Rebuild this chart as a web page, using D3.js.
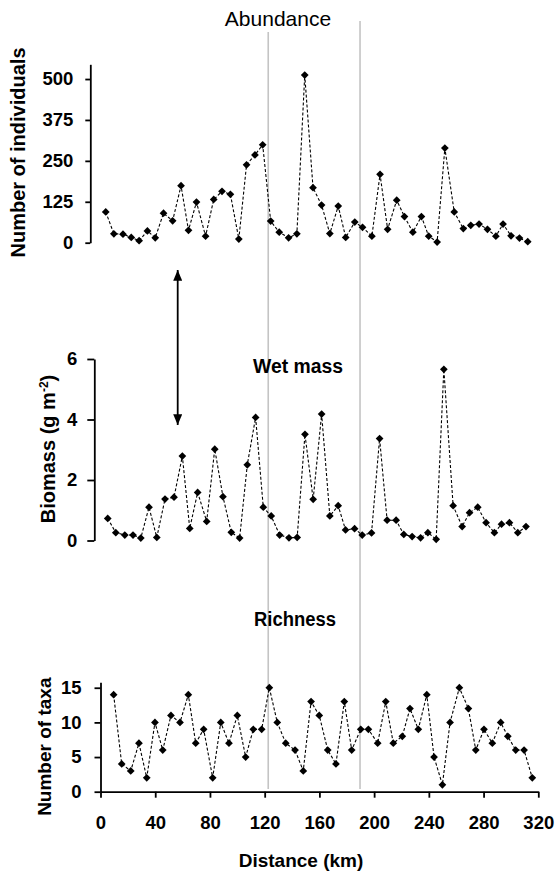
<!DOCTYPE html>
<html>
<head>
<meta charset="utf-8">
<script src="https://cdn.jsdelivr.net/npm/d3@7"></script>
<style>
  html, body { margin: 0; padding: 0; background: #fff; }
  svg { display: block; }
  text { font-family: "Liberation Sans", Arial, sans-serif; fill: #000; }
</style>
</head>
<body>
<svg id="chart" width="555" height="875"></svg>
<script>
// ---- data ----
const distanceKm = [9.6,15.5,22.1,28.1,33.8,39.8,45.5,51.5,58.1,64.2,69.6,75.4,82.0,87.9,93.9,100.0,106.1,111.7,117.8,123.4,129.2,135.4,142.2,148.2,153.9,159.9,166.1,172.1,178.2,183.6,190.2,195.8,202.6,208.5,214.0,220.6,226.2,232.3,238.5,243.8,249.9,255.5,262.3,268.9,274.3,280.3,286.4,292.5,297.7,303.5,309.6,315.6];
const abundance = [94,27,26,16,6,36,15,90,67,174, 38,124,20,132,157,148,11,238,268,299, 66,32,15,27,512,168,115,28,112,16, 63,47,20,209,41,130,80,32,80,20, 2,289,94,43,53,57,41,20,57,21, 14,3];
const biomass = [0.73,0.26,0.18,0.18,0.08,1.10,0.10,1.37,1.43,2.79, 0.40,1.59,0.63,3.02,1.45,0.27,0.08,2.50,4.07,1.10, 0.81,0.18,0.09,0.10,3.51,1.36,4.18,0.81,1.15,0.35, 0.39,0.18,0.25,3.37,0.67,0.67,0.20,0.13,0.09,0.26, 0.04,5.66,1.15,0.46,0.92,1.10,0.59,0.26,0.54,0.59, 0.26,0.46];
const richness = [14,4,3,7,2,10,6,11,10,14, 7,9,2,10,7,11,5,9,9,15, 10,7,6,3,13,11,6,4,13,6, 9,9,7,13,7,8,12,9,14,5, 1,10,15,12,6,9,7,10,8,6, 6,2];
const abundanceTicks = [0,125,250,375,500];
const biomassTicks = [0,2,4,6];
const richnessTicks = [0,5,10,15];
const distanceTicks = [0,40,80,120,160,200,240,280,320];
const sectionBounds = [122.6, 189.7];

const svg = d3.select("#chart");

// ---- scales ----
const xRich = d3.scaleLinear().domain([0,320]).range([100.5,538.3]);
const xAbun = d3.scaleLinear().domain([0,320]).range([92.5,533.8]);
const xBio  = d3.scaleLinear().domain([0,320]).range([94.6,532.0]);
const yAbun = d3.scaleLinear().domain([0,545]).range([242.7,64.3]);
const yBio  = d3.scaleLinear().domain([0,6]).range([540.5,359]);
const yRich = d3.scaleLinear().domain([0,15.8]).range([791.7,682.2]);
const fmt = d3.format("d");

// ---- grey section lines ----
const lineTops = [32, 21];
svg.selectAll("line.section").data(sectionBounds).join("line")
  .attr("class","section")
  .attr("x1", d => xRich(d)).attr("x2", d => xRich(d))
  .attr("y1", (d,i) => lineTops[i]).attr("y2", 789)
  .attr("stroke", "#c4c4c4").attr("stroke-width", 1.6);

// ---- axes ----
function styleAxis(g, fs) {
  g.select(".domain").attr("stroke","#000").attr("stroke-width",1.8);
  g.selectAll(".tick line").attr("stroke","#000").attr("stroke-width",1.8);
  g.selectAll(".tick text").attr("font-size", fs).attr("font-weight","bold")
    .attr("font-family",'"Liberation Sans", Arial, sans-serif').attr("fill","#000");
}

svg.append("g").attr("transform","translate(90.3,0)")
  .call(d3.axisLeft(yAbun).tickValues(abundanceTicks).tickFormat(fmt).tickSizeInner(5).tickSizeOuter(0).tickPadding(12))
  .call(g => styleAxis(g, 18.5));

svg.append("g").attr("transform","translate(94.3,0)")
  .call(d3.axisLeft(yBio).tickValues(biomassTicks).tickFormat(fmt).tickSizeInner(7).tickSizeOuter(0).tickPadding(10))
  .call(g => styleAxis(g, 18.5));

svg.append("g").attr("transform","translate(100.5,0)")
  .call(d3.axisLeft(yRich).tickValues(richnessTicks).tickFormat(fmt).tickSizeInner(6).tickSizeOuter(0).tickPadding(13))
  .call(g => styleAxis(g, 18.5));

svg.append("g").attr("transform","translate(0,791.7)")
  .call(d3.axisBottom(xRich).tickValues(distanceTicks).tickFormat(fmt).tickSizeInner(6).tickSizeOuter(0).tickPadding(18))
  .call(g => styleAxis(g, 18.5));

// ---- series ----
function drawSeries(values, xs, ys) {
  const pts = values.map((v,i) => [distanceKm[i], v]);
  svg.append("path").datum(pts)
    .attr("d", d3.line().x(d => xs(d[0])).y(d => ys(d[1])))
    .attr("fill","none").attr("stroke","#000").attr("stroke-width",1.1)
    .attr("stroke-dasharray","3,2");
  svg.append("g").selectAll("path").data(pts).join("path")
    .attr("d", d3.symbol(d3.symbolSquare, 30))
    .attr("transform", d => `translate(${xs(d[0])},${ys(d[1])}) rotate(45)`)
    .attr("fill","#000");
}
drawSeries(abundance, xAbun, yAbun);
drawSeries(biomass, xBio, yBio);
drawSeries(richness, xRich, yRich);

// ---- titles ----
svg.append("text").attr("x",278).attr("y",26).attr("text-anchor","middle")
  .attr("font-size",21).text("Abundance");
svg.append("text").attr("x",298).attr("y",373).attr("text-anchor","middle")
  .attr("font-size",19.5).attr("font-weight","bold").attr("textLength",90).attr("lengthAdjust","spacingAndGlyphs").text("Wet mass");
svg.append("text").attr("x",295).attr("y",626).attr("text-anchor","middle")
  .attr("font-size",19.5).attr("font-weight","bold").attr("textLength",82).attr("lengthAdjust","spacingAndGlyphs").text("Richness");

// ---- axis titles ----
svg.append("text").attr("transform","translate(25,152.5) rotate(-90)").attr("text-anchor","middle")
  .attr("font-size",20).attr("font-weight","bold").text("Number of individuals");
const bt = svg.append("text").attr("transform","translate(55,449) rotate(-90)").attr("text-anchor","middle")
  .attr("font-size",20).attr("font-weight","bold");
bt.append("tspan").text("Biomass (g m");
bt.append("tspan").attr("font-size",12).attr("baseline-shift","super").text("-2");
bt.append("tspan").text(")");
svg.append("text").attr("transform","translate(51,746.7) rotate(-90)").attr("text-anchor","middle")
  .attr("font-size",19).attr("font-weight","bold").text("Number of taxa");
svg.append("text").attr("x",301).attr("y",867).attr("text-anchor","middle")
  .attr("font-size",19).attr("font-weight","bold").text("Distance (km)");

// ---- double arrow ----
svg.append("defs").append("marker").attr("id","ah")
  .attr("viewBox","0 0 10 10").attr("refX",10).attr("refY",5)
  .attr("markerWidth",6).attr("markerHeight",5).attr("markerUnits","strokeWidth")
  .attr("orient","auto-start-reverse").attr("preserveAspectRatio","none")
  .append("path").attr("d","M0,0 L10,5 L0,10 Z").attr("fill","#000");
svg.append("line").attr("x1",177.7).attr("x2",177.7).attr("y1",270).attr("y2",425)
  .attr("stroke","#000").attr("stroke-width",1.8)
  .attr("marker-start","url(#ah)").attr("marker-end","url(#ah)");
</script>
</body>
</html>
